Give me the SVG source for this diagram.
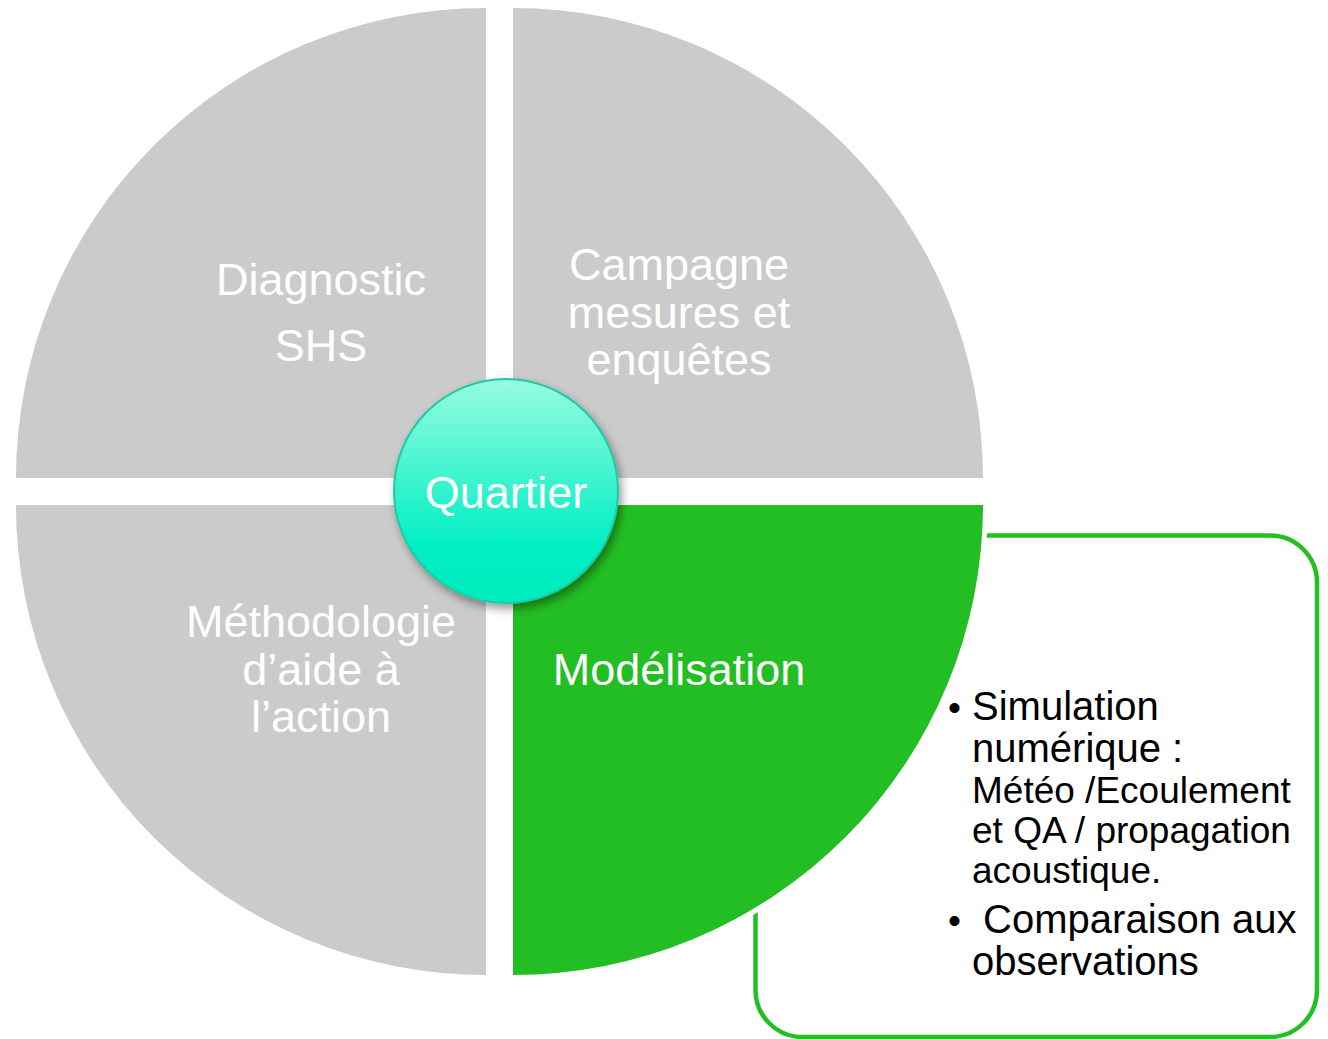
<svg xmlns="http://www.w3.org/2000/svg" width="1328" height="1039" viewBox="0 0 1328 1039">
  <defs>
    <linearGradient id="teal" x1="0" y1="0" x2="0" y2="1">
      <stop offset="0" stop-color="#97FBE1"/>
      <stop offset="0.75" stop-color="#00EFC2"/>
      <stop offset="1" stop-color="#00EBBE"/>
    </linearGradient>
    <filter id="shadow" x="-30%" y="-30%" width="160%" height="160%">
      <feGaussianBlur in="SourceAlpha" stdDeviation="5"/>
      <feOffset dx="3" dy="5" result="b"/>
      <feComponentTransfer><feFuncA type="linear" slope="0.4"/></feComponentTransfer>
      <feMerge><feMergeNode/><feMergeNode in="SourceGraphic"/></feMerge>
    </filter>
  </defs>
  <style>
    .q { fill: #CBCBCB; }
    .lbl { font-family: "Liberation Sans", Arial, sans-serif; font-size: 45px; fill: #FFFFFF; text-anchor: middle; }
    .box { font-family: "Liberation Sans", Arial, sans-serif; font-size: 37px; fill: #000000; }
  </style>
  <rect width="1328" height="1039" fill="#FFFFFF"/>

  <g id="callout">
    <rect x="755.5" y="535.5" width="561.5" height="501.5" rx="47" ry="47" fill="#FFFFFF" stroke="#22C022" stroke-width="4.5"/>
    <text class="box">
      <tspan x="948" y="720">•</tspan><tspan x="972" y="720" font-size="40">Simulation</tspan>
      <tspan x="972" y="762" font-size="40">numérique :</tspan>
      <tspan x="972" y="803">Météo /Ecoulement</tspan>
      <tspan x="972" y="843">et QA / propagation</tspan>
      <tspan x="972" y="883">acoustique.</tspan>
      <tspan x="948" y="933">•</tspan><tspan x="972" y="933" font-size="40" xml:space="preserve"> Comparaison aux</tspan>
      <tspan x="972" y="975" font-size="40">observations</tspan>
    </text>
  </g>

  <g id="diagnostic">
    <path class="q" d="M486,478 L16,478 A470,470 0 0 1 486,8 Z"/>
    <text class="lbl"><tspan x="321" y="295">Diagnostic</tspan><tspan x="321" y="361">SHS</tspan></text>
  </g>
  <g id="campagne">
    <path class="q" d="M513,478 L513,8 A470,470 0 0 1 983,478 Z"/>
    <text class="lbl"><tspan x="679" y="280">Campagne</tspan><tspan x="679" y="328">mesures et</tspan><tspan x="679" y="375">enquêtes</tspan></text>
  </g>
  <g id="methodologie">
    <path class="q" d="M486,505 L486,975 A470,470 0 0 1 16,505 Z"/>
    <text class="lbl"><tspan x="321" y="637">Méthodologie</tspan><tspan x="321" y="685">d’aide à</tspan><tspan x="321" y="732">l’action</tspan></text>
  </g>
  <g id="modelisation">
    <path d="M513,505 L983,505 A470,470 0 0 1 513,975 Z" fill="#FFFFFF" stroke="#FFFFFF" stroke-width="10"/>
    <path d="M513,505 L983,505 A470,470 0 0 1 513,975 Z" fill="#23BE23"/>
    <text class="lbl" x="679" y="685">Modélisation</text>
  </g>

  <g id="quartier">
    <circle cx="506" cy="491" r="112" fill="url(#teal)" stroke="#1FC9A3" stroke-width="2" filter="url(#shadow)"/>
    <text class="lbl" x="506" y="508" font-size="40">Quartier</text>
  </g>

  <g id="connectors"></g>
</svg>
